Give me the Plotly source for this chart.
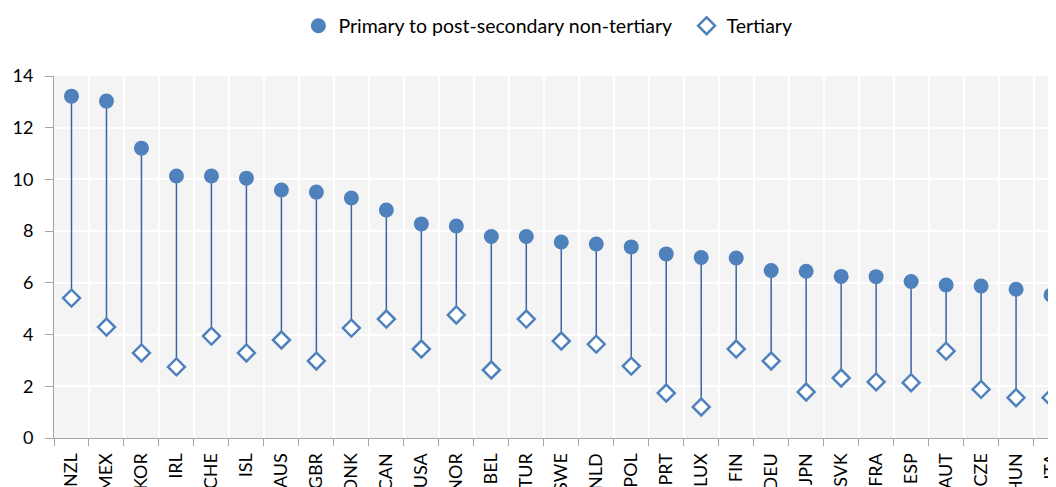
import plotly.graph_objects as go

countries = ['NZL', 'MEX', 'KOR', 'IRL', 'CHE', 'ISL', 'AUS', 'GBR', 'DNK', 'CAN',
             'USA', 'NOR', 'BEL', 'TUR', 'SWE', 'NLD', 'POL', 'PRT', 'LUX', 'FIN',
             'DEU', 'JPN', 'SVK', 'FRA', 'ESP', 'AUT', 'CZE', 'HUN', 'ITA']
primary = [13.22, 13.03, 11.21, 10.13, 10.13, 10.05, 9.59, 9.51, 9.28, 8.82,
           8.28, 8.20, 7.79, 7.79, 7.58, 7.50, 7.39, 7.12, 6.98, 6.96,
           6.48, 6.45, 6.25, 6.24, 6.05, 5.92, 5.88, 5.75, 5.53]
tertiary = [5.41, 4.29, 3.29, 2.75, 3.94, 3.29, 3.79, 2.98, 4.25, 4.60,
            3.44, 4.76, 2.63, 4.60, 3.75, 3.63, 2.78, 1.74, 1.20, 3.44,
            2.98, 1.78, 2.32, 2.17, 2.14, 3.36, 1.88, 1.56, 1.56]

blue = '#4f81bd'
stem = '#3a65a3'

# stems from tertiary up to primary
sx, sy = [], []
for c, p, t in zip(countries, primary, tertiary):
    sx += [c, c, None]
    sy += [t, p, None]

fig = go.Figure()

fig.add_trace(go.Scatter(
    x=sx, y=sy, mode='lines',
    line=dict(color=stem, width=1.5),
    showlegend=False, hoverinfo='skip', cliponaxis=False
))

fig.add_trace(go.Scatter(
    x=countries, y=primary, mode='markers',
    name='Primary to post-secondary non-tertiary\u00a0\u00a0',
    marker=dict(symbol='circle', size=15, color=blue),
    cliponaxis=False
))

fig.add_trace(go.Scatter(
    x=countries, y=tertiary, mode='markers',
    name='Tertiary',
    marker=dict(symbol='diamond', size=13, color='white',
                line=dict(color=blue, width=2.5)),
    cliponaxis=False
))

fig.update_layout(
    width=1056,
    height=487,
    paper_bgcolor='white',
    plot_bgcolor='#f4f4f4',
    margin=dict(t=68, l=46, r=0, b=57, autoexpand=False),
    font=dict(family='Lato, Open Sans, sans-serif', size=17, color='black'),
    legend=dict(
        orientation='h', x=0.489, xanchor='center',
        y=1.138, yanchor='middle',
        font=dict(size=19.5),
        itemwidth=30,
    ),
    xaxis=dict(
        type='category',
        range=[-0.5, 28.37],
        tickson='boundaries',
        showgrid=True, gridcolor='white', gridwidth=1.5,
        ticks='outside', ticklen=7, tickcolor='#a6a6a6',
        showline=True, linecolor='#a6a6a6', linewidth=1,
        tickangle=-90,
        tickfont=dict(size=18),
        ticklabelstandoff=7,
        automargin=False,
    ),
    yaxis=dict(
        range=[0, 14],
        dtick=2,
        showgrid=True, gridcolor='white', gridwidth=1.5,
        ticks='outside', ticklen=8, tickcolor='#a6a6a6',
        showline=True, linecolor='#a6a6a6', linewidth=1,
        zeroline=False,
        tickfont=dict(size=18),
        ticklabelstandoff=8,
        automargin=False,
    ),
)

fig.write_html('out.html')
